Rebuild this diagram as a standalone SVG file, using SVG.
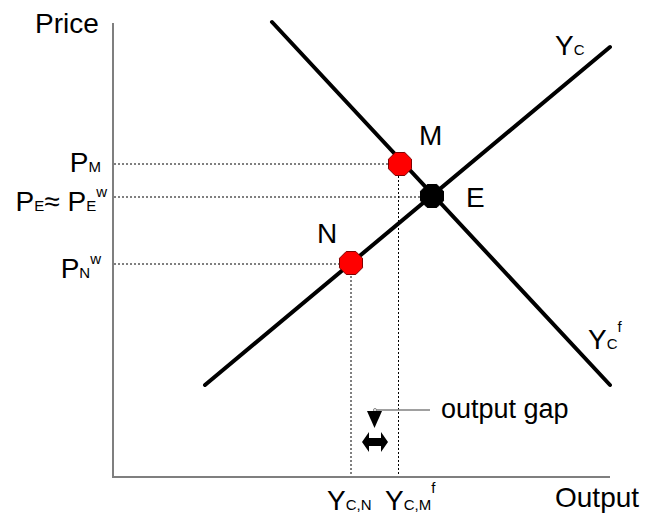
<svg xmlns="http://www.w3.org/2000/svg" width="646" height="520" viewBox="0 0 646 520">
<style>
text{font-family:"Liberation Sans",Arial,sans-serif;fill:#000}
.lbl{font-size:28px}
.sub{font-size:15px}
.axis{stroke:#7f7f7f;stroke-width:2;fill:none}
.curve{stroke:#000;stroke-width:4;fill:none;stroke-linecap:round}
.dot{stroke:#000;stroke-width:1;stroke-dasharray:2,2;fill:none}
.red{fill:#ff0000;stroke:#800000;stroke-width:1}
.blk{fill:#000;stroke:#000;stroke-width:1}
</style>
<defs>
<polygon id="oct" points="11.5,4.8 4.8,11.5 -4.8,11.5 -11.5,4.8 -11.5,-4.8 -4.8,-11.5 4.8,-11.5 11.5,-4.8"/>
</defs>
<g id="axes">
<line class="axis" x1="113" y1="23" x2="113" y2="477"/>
<line class="axis" x1="112" y1="477" x2="610" y2="477"/>
</g>
<g id="connectors">
<line class="dot" x1="114" y1="164" x2="400" y2="164"/>
<line class="dot" x1="114" y1="197" x2="432" y2="197"/>
<line class="dot" x1="114" y1="264" x2="351" y2="264"/>
<line class="dot" x1="351" y1="264" x2="351" y2="476"/>
<line class="dot" x1="398.5" y1="164" x2="398.5" y2="476"/>
<line class="curve" x1="272" y1="22" x2="610" y2="385"/>
<line class="curve" x1="205" y1="385" x2="610" y2="47"/>
<line x1="375" y1="410" x2="430" y2="410" stroke="#808080" stroke-width="1.5"/>
<circle cx="375" cy="410" r="1.5" fill="#fff" stroke="#808080" stroke-width="1"/>
<polygon points="367,411 382,411 374.5,428" fill="#000"/>
<polygon points="362,442 369,432 369,438 381,438 381,432 388,442 381,452 381,446 369,446 369,452" fill="#000"/>
</g>
<g id="node-M"><use href="#oct" class="red" x="400" y="164"/><text class="lbl" x="419" y="145">M</text></g>
<g id="node-E"><use href="#oct" class="blk" x="432" y="196"/><text class="lbl" x="466" y="207">E</text></g>
<g id="node-N"><use href="#oct" class="red" x="351" y="263"/><text class="lbl" x="317" y="243">N</text></g>
<g id="labels">
<text class="lbl" x="35" y="33">Price</text>
<text class="lbl" x="555" y="507">Output</text>
<text class="lbl" x="101" y="172" text-anchor="end">P<tspan class="sub">M</tspan></text>
<text class="lbl" x="107" y="211" text-anchor="end">P<tspan class="sub">E</tspan>≈ P<tspan class="sub">E</tspan><tspan class="sub" dy="-14">w</tspan></text>
<text class="lbl" x="101" y="278" text-anchor="end">P<tspan class="sub">N</tspan><tspan class="sub" dy="-14">w</tspan></text>
<text class="lbl" x="555" y="55">Y<tspan class="sub">C</tspan></text>
<text class="lbl" x="588" y="349">Y<tspan class="sub">C</tspan><tspan class="sub" dy="-17">f</tspan></text>
<text class="lbl" x="327" y="510">Y<tspan class="sub">C,N</tspan></text>
<text class="lbl" x="385" y="510">Y<tspan class="sub">C,M</tspan><tspan class="sub" dy="-17">f</tspan></text>
<text x="441" y="418" style="font-size:27px">output gap</text>
</g>
</svg>
